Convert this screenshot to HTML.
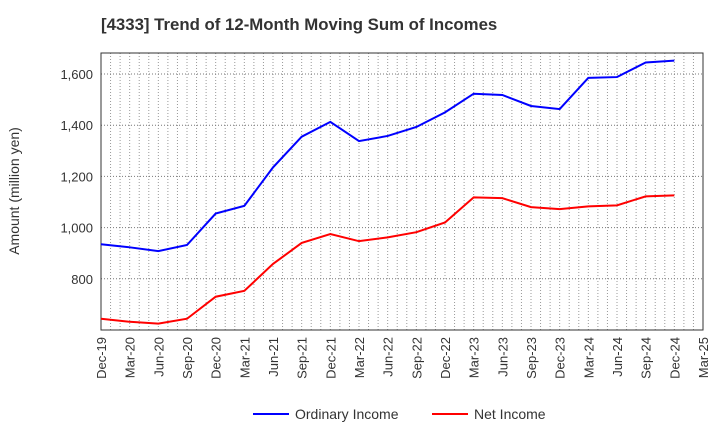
<!DOCTYPE html>
<html><head><meta charset="utf-8"><style>
body{margin:0;background:#fff;font-family:"Liberation Sans",sans-serif}
</style></head><body>
<svg id="c" width="720" height="440" xmlns="http://www.w3.org/2000/svg">
<text x="101" y="30" font-size="16.8" font-weight="bold" fill="#333">[4333]  Trend of 12-Month Moving Sum of Incomes</text>
<g id="grid"></g><g id="axes"></g><g id="series"></g>
<text transform="translate(19,191) rotate(-90)" text-anchor="middle" font-size="14" fill="#333">Amount (million yen)</text>
<g>
<line x1="253" y1="414" x2="289" y2="414" stroke="#0000ff" stroke-width="2"/>
<text x="295" y="419" font-size="14" fill="#333">Ordinary Income</text>
<line x1="432" y1="414" x2="468" y2="414" stroke="#ff0000" stroke-width="2"/>
<text x="474" y="419" font-size="14" fill="#333">Net Income</text>
</g>
</svg>
<script>
const categories=["Dec-19","Mar-20","Jun-20","Sep-20","Dec-20","Mar-21","Jun-21","Sep-21","Dec-21","Mar-22","Jun-22","Sep-22","Dec-22","Mar-23","Jun-23","Sep-23","Dec-23","Mar-24","Jun-24","Sep-24","Dec-24","Mar-25"];
const ordinaryIncome=[935,923,908,932,1055,1085,1235,1355,1413,1338,1358,1393,1450,1523,1518,1475,1463,1585,1588,1645,1652];
const netIncome=[644,632,625,644,730,753,858,940,975,947,962,982,1020,1118,1115,1080,1072,1083,1087,1122,1126];
const yTicks=[800,1000,1200,1400,1600];
const L=101,R=703,T=53,B=330,yMin=600,yMax=1682;
const NS="http://www.w3.org/2000/svg";
const xs=i=>L+i*(R-L)/(categories.length-1);
const ys=v=>B-(v-yMin)/(yMax-yMin)*(B-T);
function mk(p,t,a){const e=document.createElementNS(NS,t);for(const k in a)e.setAttribute(k,a[k]);p.appendChild(e);return e;}
const g=document.getElementById('grid'),ax=document.getElementById('axes'),s=document.getElementById('series');
const nMonths=(categories.length-1)*3;
for(let m=1;m<nMonths;m++){const x=L+m*(R-L)/nMonths;const l=mk(g,'line',{x1:x,x2:x,y1:T,y2:B,stroke:'#999','stroke-dasharray':'1,2','stroke-width':1});

}
yTicks.forEach(v=>{const y=ys(v);const l=mk(g,'line',{x1:L,x2:R,y1:y,y2:y,stroke:'#777','stroke-dasharray':'1,2'});


const t=mk(ax,'text',{x:L-8,y:y+5,'text-anchor':'end','font-size':13,fill:'#333'});t.textContent=v.toLocaleString('en-US');

});
const f=mk(ax,'rect',{x:L,y:T,width:R-L,height:B-T,fill:'none',stroke:'#333'});


categories.forEach((c,i)=>{const x=xs(i);const t=mk(ax,'text',{transform:`translate(${x+5},${B+7}) rotate(-90)`,'text-anchor':'end','font-size':13,fill:'#333'});t.textContent=c;

});
function line(d,col,name){const p=mk(s,'polyline',{points:d.map((v,i)=>xs(i)+','+ys(v)).join(' '),fill:'none',stroke:col,'stroke-width':2});

}
line(ordinaryIncome,'#0000ff','ordinary-income-line');
line(netIncome,'#ff0000','net-income-line');
</script>
</body></html>
